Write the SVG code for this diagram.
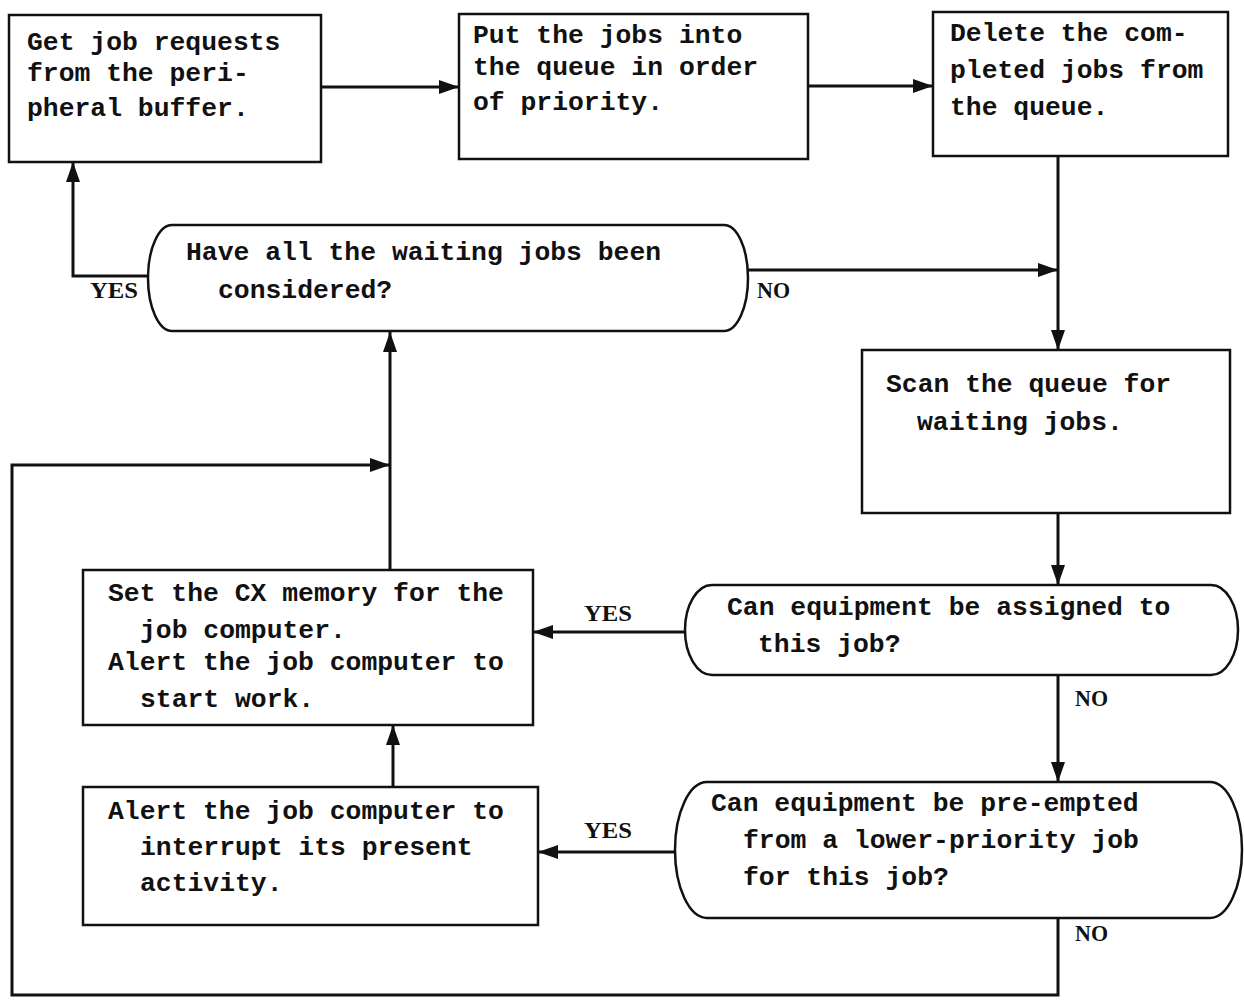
<svg xmlns="http://www.w3.org/2000/svg" width="1244" height="1003" viewBox="0 0 1244 1003">
  <defs>
    <style>
      .box { fill: #fff; stroke: #111; stroke-width: 2.5; }
      .txt { font-family: "Liberation Mono", "Courier New", monospace; font-weight: bold; font-size: 26.4px; fill: #111; }
      .lbl { font-family: "Liberation Serif", "Times New Roman", serif; font-weight: bold; font-size: 24px; fill: #111; }
      .wire { fill: none; stroke: #111; stroke-width: 3; }
    </style>
    <marker id="arrow" markerUnits="userSpaceOnUse" markerWidth="22" markerHeight="16" refX="20" refY="7" orient="auto">
      <path d="M0,0 L20,7 L0,14 Z" fill="#111"/>
    </marker>
  </defs>
  <rect width="1244" height="1003" fill="#fff"/>

  <!-- connectors -->
  <g id="connectors">
    <path class="wire" d="M321,87 H459" marker-end="url(#arrow)"/>
    <path class="wire" d="M808,86 H933" marker-end="url(#arrow)"/>
    <path class="wire" d="M1058,156 V350" marker-end="url(#arrow)"/>
    <path class="wire" d="M748,270 H1058" marker-end="url(#arrow)"/>
    <path class="wire" d="M148,276 H73 V162" marker-end="url(#arrow)"/>
    <path class="wire" d="M1058,513 V585" marker-end="url(#arrow)"/>
    <path class="wire" d="M685,632 H533" marker-end="url(#arrow)"/>
    <path class="wire" d="M1058,675 V782" marker-end="url(#arrow)"/>
    <path class="wire" d="M675,852 H538" marker-end="url(#arrow)"/>
    <path class="wire" d="M1058,918 V995 H12 V465 H390" marker-end="url(#arrow)"/>
    <path class="wire" d="M390,570 V332" marker-end="url(#arrow)"/>
    <path class="wire" d="M393,787 V725" marker-end="url(#arrow)"/>
    <text class="lbl" x="90" y="298" textLength="48" lengthAdjust="spacingAndGlyphs">YES</text>
    <text class="lbl" x="757" y="298" textLength="33" lengthAdjust="spacingAndGlyphs">NO</text>
    <text class="lbl" x="584" y="621" textLength="48" lengthAdjust="spacingAndGlyphs">YES</text>
    <text class="lbl" x="1075" y="706" textLength="33" lengthAdjust="spacingAndGlyphs">NO</text>
    <text class="lbl" x="584" y="838" textLength="48" lengthAdjust="spacingAndGlyphs">YES</text>
    <text class="lbl" x="1075" y="941" textLength="33" lengthAdjust="spacingAndGlyphs">NO</text>
  </g>

  <!-- process boxes -->
  <g id="get-requests">
    <rect class="box" x="9" y="15" width="312" height="147"/>
    <text class="txt" x="27" y="50">Get job requests</text>
    <text class="txt" x="27" y="81">from the peri-</text>
    <text class="txt" x="27" y="116">pheral buffer.</text>
  </g>

  <g id="queue-jobs">
    <rect class="box" x="459" y="14" width="349" height="145"/>
    <text class="txt" x="473" y="43">Put the jobs into</text>
    <text class="txt" x="473" y="75">the queue in order</text>
    <text class="txt" x="473" y="110">of priority.</text>
  </g>

  <g id="delete-completed">
    <rect class="box" x="933" y="12" width="295" height="144"/>
    <text class="txt" x="950" y="41">Delete the com-</text>
    <text class="txt" x="950" y="78">pleted jobs from</text>
    <text class="txt" x="950" y="115">the queue.</text>
  </g>

  <g id="scan-queue">
    <rect class="box" x="862" y="350" width="368" height="163"/>
    <text class="txt" x="886" y="392">Scan the queue for</text>
    <text class="txt" x="917" y="430">waiting jobs.</text>
  </g>

  <g id="set-memory">
    <rect class="box" x="83" y="570" width="450" height="155"/>
    <text class="txt" x="108" y="601">Set the CX memory for the</text>
    <text class="txt" x="140" y="638">job computer.</text>
    <text class="txt" x="108" y="670">Alert the job computer to</text>
    <text class="txt" x="140" y="707">start work.</text>
  </g>

  <g id="alert-interrupt">
    <rect class="box" x="83" y="787" width="455" height="138"/>
    <text class="txt" x="108" y="819">Alert the job computer to</text>
    <text class="txt" x="140" y="855">interrupt its present</text>
    <text class="txt" x="140" y="891">activity.</text>
  </g>

  <!-- decisions -->
  <g id="all-considered">
    <path class="box" d="M172,225 H724 A24,53 0 0 1 724,331 H172 A24,53 0 0 1 172,225 Z"/>
    <text class="txt" x="186" y="260">Have all the waiting jobs been</text>
    <text class="txt" x="218" y="298">considered?</text>
  </g>

  <g id="can-assign">
    <path class="box" d="M712,585 H1211 A27,45 0 0 1 1211,675 H712 A27,45 0 0 1 712,585 Z"/>
    <text class="txt" x="727" y="615">Can equipment be assigned to</text>
    <text class="txt" x="758" y="652">this job?</text>
  </g>

  <g id="can-preempt">
    <path class="box" d="M707,782 H1210 A32,68 0 0 1 1210,918 H707 A32,68 0 0 1 707,782 Z"/>
    <text class="txt" x="711" y="811">Can equipment be pre-empted</text>
    <text class="txt" x="743" y="848">from a lower-priority job</text>
    <text class="txt" x="743" y="885">for this job?</text>
  </g>
</svg>
